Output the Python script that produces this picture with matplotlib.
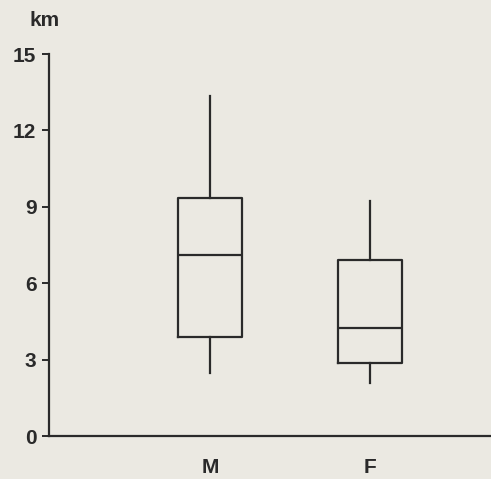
import matplotlib.pyplot as plt

# distance travelled per group (km)
groups = ['M', 'F']
whisker_low = [2.47, 2.08]
q1 = [3.89, 2.87]
median = [7.10, 4.24]
q3 = [9.34, 6.91]
whisker_high = [13.35, 9.23]

yticks = [0, 3, 6, 9, 12, 15]

paper = '#ebe9e2'
ink = '#2a2a2a'

plt.rcParams['font.family'] = ['Liberation Sans', 'DejaVu Sans']
plt.rcParams['font.weight'] = 'bold'

fig = plt.figure(figsize=(4.91, 4.79), dpi=100, facecolor=paper)
ax = fig.add_axes([49 / 491, 1 - 436 / 479, 1 - 49 / 491, (436 - 54) / 479])
ax.set_facecolor(paper)

stats = []
for i, g in enumerate(groups):
    stats.append({'label': g, 'whislo': whisker_low[i], 'q1': q1[i],
                  'med': median[i], 'q3': q3[i], 'whishi': whisker_high[i],
                  'fliers': []})

line = dict(color=ink, linewidth=1.6)
ax.bxp(stats, positions=[1, 2], widths=0.4, showcaps=False,
       boxprops=line, medianprops=line, whiskerprops=line)

ax.set_xlim(1 - 161 / 160, 2 + 121 / 160)
ax.set_ylim(0, 15)
ax.set_yticks(yticks)
ax.set_yticklabels([str(t) for t in yticks], fontsize=15, fontweight='bold', color=ink)
ax.tick_params(axis='y', length=5, width=1.4, color=ink, pad=4)
ax.tick_params(axis='x', length=0, pad=16, labelsize=15, labelcolor=ink)

for side in ['top', 'right']:
    ax.spines[side].set_visible(False)
for side in ['left', 'bottom']:
    ax.spines[side].set_color(ink)
    ax.spines[side].set_linewidth(1.6)

fig.text(45 / 491, 1 - 20 / 479, 'km', ha='center', va='center',
         fontsize=15, fontweight='bold', color=ink)

fig.savefig('out.png', dpi=100, facecolor=paper)
